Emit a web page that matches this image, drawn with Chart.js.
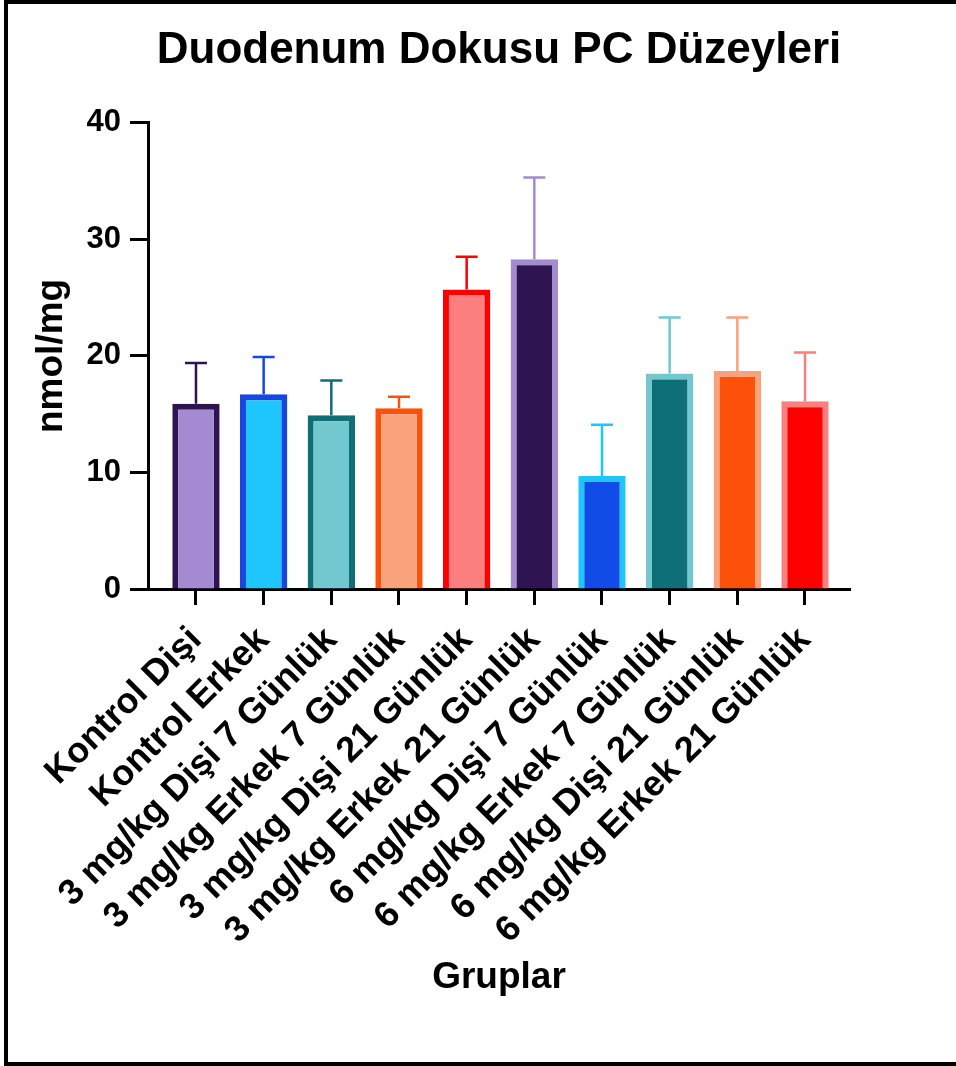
<!DOCTYPE html>
<html><head><meta charset="utf-8">
<script src="https://cdn.jsdelivr.net/npm/chart.js@4.4.1/dist/chart.umd.min.js"></script>
<style>
html,body{margin:0;padding:0;background:#fff;}
#wrap{position:relative;width:956px;height:1066px;overflow:hidden;}
#frame{position:absolute;left:4px;top:0;width:952px;height:1066px;box-sizing:border-box;border-left:4px solid #000;border-top:4px solid #000;border-bottom:4px solid #000;pointer-events:none;}
canvas{position:absolute;left:0;top:0;}
</style></head><body>
<div id="wrap"><canvas id="c" width="956" height="1066"></canvas><div id="frame"></div></div>
<script>
const categories = [
  "Kontrol Dişi",
  "Kontrol Erkek",
  "3 mg/kg Dişi 7 Günlük",
  "3 mg/kg Erkek 7 Günlük",
  "3 mg/kg Dişi 21 Günlük",
  "3 mg/kg Erkek 21 Günlük",
  "6 mg/kg Dişi 7 Günlük",
  "6 mg/kg Erkek 7 Günlük",
  "6 mg/kg Dişi 21 Günlük",
  "6 mg/kg Erkek 21 Günlük"
];
const means  = [15.9, 16.7, 14.9, 15.5, 25.7, 28.3, 9.7, 18.5, 18.7, 16.1];
const errors = [3.5, 3.2, 3.0, 1.0, 2.8, 7.0, 4.4, 4.8, 4.6, 4.2];
const fillColors = ["#a48bd1","#1fc5fd","#72c8ce","#f9a27c","#fb7f7e","#2e1450","#124ce6","#0f6f79","#fb5108","#fe0000"];
const edgeColors = ["#2e1450","#1746e3","#0f6f79","#fb5108","#fe0000","#a48bd1","#1fc5fd","#72c8ce","#f9a27c","#fb7f7e"];
const yTickValues = [0, 10, 20, 30, 40];

const FONT = "'Liberation Sans', Arial, Helvetica, sans-serif";

const errorBars = {
  id: 'errorBars',
  afterDatasetsDraw(chart) {
    const ctx = chart.ctx;
    const meta = chart.getDatasetMeta(0);
    const y = chart.scales.y;
    ctx.save();
    ctx.lineWidth = 2.5;
    meta.data.forEach((bar, i) => {
      const base = y.getPixelForValue(means[i]);
      const top = y.getPixelForValue(means[i] + errors[i]);
      const cap = 11;
      ctx.strokeStyle = edgeColors[i];
      ctx.beginPath();
      ctx.moveTo(bar.x, base);
      ctx.lineTo(bar.x, top);
      ctx.moveTo(bar.x - cap, top);
      ctx.lineTo(bar.x + cap, top);
      ctx.stroke();
    });
    ctx.restore();
  }
};

new Chart(document.getElementById('c'), {
  type: 'bar',
  data: {
    labels: categories,
    datasets: [{
      data: means,
      backgroundColor: fillColors,
      borderColor: edgeColors,
      borderWidth: 6,
      borderSkipped: 'start',
      categoryPercentage: 1,
      barPercentage: 0.7
    }]
  },
  options: {
    responsive: false,
    devicePixelRatio: 1,
    animation: false,
    layout: { padding: { left: 0, right: 106, top: 0, bottom: 0 } },
    plugins: {
      legend: { display: false },
      tooltip: { enabled: false },
      title: {
        display: true,
        text: 'Duodenum Dokusu PC Düzeyleri',
        color: '#000',
        fullSize: false,
        font: { family: FONT, size: 44, weight: 'bold', lineHeight: 1.2 },
        padding: { top: 24, bottom: 46 }
      }
    },
    scales: {
      x: {
        type: 'category',
        offset: true,
        afterBuildTicks: s => { s._startValue = -0.709; s._valueRange = 10.374; },
        afterFit: s => { s.height = 1066 - 589; },
        grid: { display: true, drawOnChartArea: false, offset: false, tickLength: 16, tickWidth: 3, tickColor: '#000' },
        border: { display: true, width: 3, color: '#000' },
        ticks: {
          autoSkip: false, minRotation: 45, maxRotation: 45, padding: 14, color: '#000',
          font: { family: FONT, size: 36, weight: 'bold' }
        },
        title: {
          display: true, text: 'Gruplar', color: '#000',
          font: { family: FONT, size: 37, weight: 'bold', lineHeight: 1.2 },
          padding: { top: 0, bottom: 66 }
        }
      },
      y: {
        min: 0, max: 40,
        afterFit: s => { s.width = 148; },
        afterBuildTicks: s => { s.ticks = yTickValues.map(v => ({ value: v })); },
        grid: { display: true, drawOnChartArea: false, tickLength: 18, tickWidth: 3, tickColor: '#000' },
        border: { display: true, width: 3, color: '#000' },
        ticks: {
          stepSize: 10, padding: 9, color: '#000',
          font: { family: FONT, size: 31, weight: 'bold' }
        },
        title: {
          display: true, text: 'nmol/mg', color: '#000',
          font: { family: FONT, size: 37, weight: 'bold', lineHeight: 1.2 },
          padding: { top: 30, bottom: 0 }
        }
      }
    }
  },
  plugins: [errorBars]
});
</script>
</body></html>
